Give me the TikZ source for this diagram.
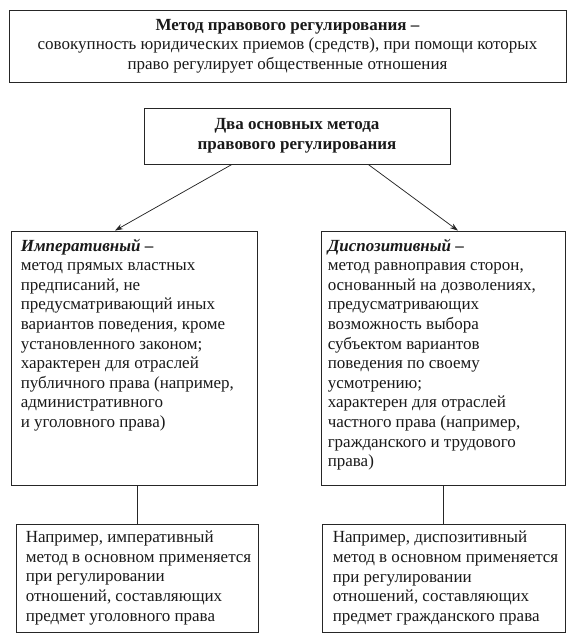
\documentclass[tikz,border=0pt]{standalone}
\usepackage{fontspec}
\setmainfont{Liberation Serif}
\usetikzlibrary{arrows.meta,calc}
\begin{document}
\begin{tikzpicture}[x=1pt,y=-1pt,
  box/.style={draw=black!85, line width=0.85pt, rectangle, inner sep=0pt},
  txt/.style={font=\fontsize{17}{19.6}\selectfont, text=black!90, inner sep=0pt},
  arr/.style={draw=black!85, line width=0.75pt, -{Stealth[length=8pt,width=5.5pt]}},
  ln/.style={draw=black!85, line width=0.85pt}]
\useasboundingbox (0,0) rectangle (575,640);

\node[box, txt, align=center, minimum width=557pt, minimum height=72pt] (top) at (287.5,46)
  {\textbf{Метод правового регулирования –}\\
   совокупность юридических приемов (средств), при помощи которых\\
   право регулирует общественные отношения};

\node[box, txt, align=center, minimum width=306pt, minimum height=56pt] (two) at (297,136)
  {\textbf{Два основных метода}\\\textbf{правового регулирования}};

\node[box, minimum width=246pt, minimum height=254pt] (bigL) at (134,358) {};
\node[txt, align=left, anchor=north west] (tL) at ($(bigL.north west)+(10,8)$)
  {\textbf{\textit{Императивный}} \textbf{–}\\
   метод прямых властных\\
   предписаний, не\\
   предусматривающий иных\\
   вариантов поведения, кроме\\
   установленного законом;\\
   характерен для отраслей\\
   публичного права (например,\\
   административного\\
   и уголовного права)};

\node[box, minimum width=244pt, minimum height=254pt] (bigR) at (443,358) {};
\node[txt, align=left, anchor=north west] (tR) at ($(bigR.north west)+(7,8)$)
  {\textbf{\textit{Диспозитивный}} \textbf{–}\\
   метод равноправия сторон,\\
   основанный на дозволениях,\\
   предусматривающих\\
   возможность выбора\\
   субъектом вариантов\\
   поведения по своему\\
   усмотрению;\\
   характерен для отраслей\\
   частного права (например,\\
   гражданского и трудового\\
   права)};

\node[box, minimum width=242pt, minimum height=108pt] (exL) at (137,578) {};
\node[txt, align=left, anchor=west] (eL) at ($(exL.west)+(10,0)$)
  {Например, императивный\\
   метод в основном применяется\\
   при регулировании\\
   отношений, составляющих\\
   предмет уголовного права};

\node[box, minimum width=243pt, minimum height=108pt] (exR) at (443.5,578) {};
\node[txt, align=left, anchor=west] (eR) at ($(exR.west)+(11,0)$)
  {Например, диспозитивный\\
   метод в основном применяется\\
   при регулировании\\
   отношений, составляющих\\
   предмет гражданского права};

\draw[arr] ($(two.south west)!0.288!(two.south east)$) -- ($(bigL.north west)!0.423!(bigL.north east)$);
\draw[arr] ($(two.south west)!0.732!(two.south east)$) -- ($(bigR.north west)!0.561!(bigR.north east)$);
\draw[ln] (exL.north |- bigL.south) -- (exL.north);
\draw[ln] (exR.north |- bigR.south) -- (exR.north);
\end{tikzpicture}
\end{document}
